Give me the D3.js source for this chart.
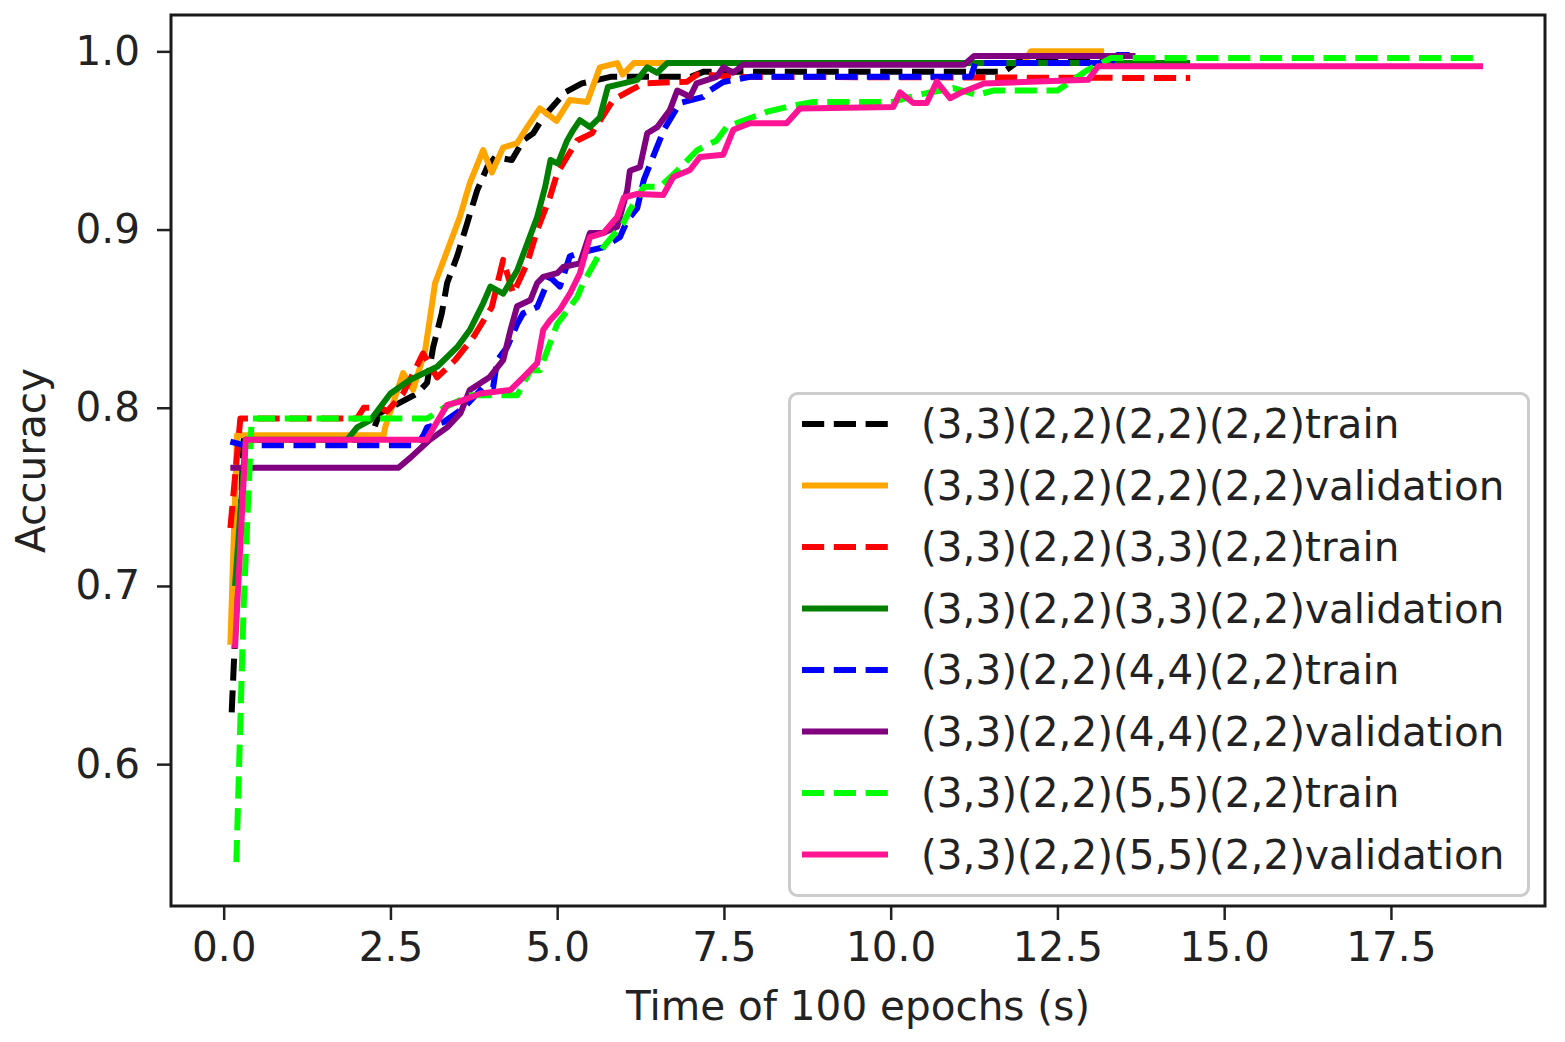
<!DOCTYPE html>
<html>
<head>
<meta charset="utf-8">
<script src="https://cdn.jsdelivr.net/npm/d3@7"></script>
<style>
  body { margin: 0; background: #fff; }
  text { font-family: "DejaVu Sans", sans-serif; fill: #222; }
</style>
</head>
<body>
<svg id="chart"></svg>
<script>
// [time (s), accuracy]
const k22Train = [[0.12,0.629],[0.3,0.782],[2.19,0.782],[2.34,0.797],[2.6,0.802],[2.9,0.808],[3.05,0.814],[3.14,0.834],[3.27,0.853],[3.35,0.870],[3.5,0.885],[3.65,0.9035],[3.8,0.922],[3.95,0.935],[4.07,0.9407],[4.32,0.939],[4.49,0.950],[4.64,0.954],[4.79,0.963],[5.12,0.977],[5.37,0.982],[5.8,0.9857],[7.0,0.9857],[7.2,0.9886],[11.7,0.9886],[11.9,0.994],[13.2,0.994]];
const k22Val = [[0.1,0.667],[0.2,0.7845],[2.4,0.7845],[2.42,0.789],[2.69,0.8195],[2.84,0.810],[3.02,0.832],[3.17,0.870],[3.35,0.888],[3.54,0.907],[3.69,0.926],[3.89,0.9446],[4.02,0.932],[4.19,0.946],[4.4,0.9485],[4.55,0.9575],[4.74,0.968],[4.99,0.961],[5.19,0.9727],[5.45,0.9716],[5.64,0.991],[5.9,0.9934],[5.98,0.987],[6.15,0.9934],[12.0,0.9934],[12.1,1.0],[13.2,1.0]];
const k33Train = [[0.1,0.7325],[0.25,0.794],[2.0,0.794],[2.1,0.800],[2.35,0.800],[2.45,0.798],[2.69,0.808],[2.99,0.8305],[3.2,0.817],[3.47,0.8267],[3.75,0.840],[4.02,0.8565],[4.19,0.883],[4.34,0.864],[4.55,0.881],[4.7,0.8997],[4.89,0.918],[5.0,0.9316],[5.3,0.950],[5.52,0.954],[5.84,0.9727],[6.09,0.978],[6.3,0.982],[6.95,0.983],[7.1,0.987],[7.8,0.9857],[14.49,0.985]];
const k33Val = [[0.17,0.70],[0.33,0.782],[1.85,0.782],[2.0,0.789],[2.2,0.793],[2.5,0.808],[2.79,0.8156],[3.2,0.823],[3.5,0.834],[3.69,0.8436],[3.89,0.8586],[4.0,0.868],[4.19,0.864],[4.4,0.877],[4.55,0.892],[4.7,0.907],[4.82,0.924],[4.9,0.939],[5.01,0.937],[5.15,0.950],[5.24,0.9558],[5.34,0.9614],[5.49,0.9575],[5.64,0.963],[5.76,0.980],[5.99,0.982],[6.2,0.984],[6.35,0.991],[6.5,0.988],[6.65,0.9934],[14.49,0.9934]];
const k44Train = [[0.1,0.781],[0.3,0.779],[2.9,0.779],[3.0,0.785],[3.05,0.789],[3.3,0.792],[3.6,0.800],[3.89,0.8115],[4.04,0.8115],[4.1,0.8266],[4.25,0.834],[4.4,0.847],[4.49,0.853],[4.7,0.8565],[4.89,0.8734],[5.04,0.868],[5.19,0.885],[5.34,0.887],[5.69,0.890],[5.94,0.8957],[6.05,0.905],[6.2,0.912],[6.3,0.928],[6.6,0.956],[6.84,0.971],[7.19,0.9745],[7.29,0.978],[7.49,0.9828],[7.89,0.9857],[11.2,0.9857],[11.27,0.9934],[13.3,0.9934],[13.4,0.998],[13.67,0.998]];
const k44Val = [[0.1,0.7663],[2.62,0.7663],[2.8,0.772],[3.09,0.782],[3.35,0.789],[3.55,0.797],[3.69,0.810],[3.99,0.8173],[4.19,0.8267],[4.3,0.8436],[4.4,0.857],[4.6,0.8605],[4.7,0.870],[4.79,0.8734],[5.0,0.8755],[5.09,0.879],[5.34,0.881],[5.49,0.898],[5.69,0.898],[5.9,0.9016],[6.05,0.922],[6.09,0.933],[6.24,0.935],[6.35,0.954],[6.5,0.9575],[6.69,0.967],[6.8,0.978],[6.99,0.9745],[7.09,0.982],[7.39,0.9857],[7.49,0.991],[7.64,0.988],[7.79,0.9925],[11.1,0.9925],[11.25,0.9974],[13.67,0.9974]];
const k55Train = [[0.19,0.545],[0.3,0.69],[0.42,0.794],[3.05,0.794],[3.3,0.800],[3.7,0.807],[4.4,0.807],[4.6,0.821],[4.74,0.821],[4.89,0.836],[5.0,0.847],[5.3,0.862],[5.39,0.870],[5.69,0.890],[5.99,0.9035],[6.09,0.911],[6.3,0.924],[6.54,0.924],[6.8,0.933],[7.1,0.9446],[7.39,0.950],[7.54,0.9575],[8.14,0.966],[8.44,0.9688],[8.84,0.9716],[10.04,0.9716],[10.39,0.9755],[10.94,0.9794],[11.29,0.9755],[11.54,0.978],[12.5,0.978],[12.95,0.9895],[13.3,0.9962],[18.86,0.9962]];
const k55Val = [[0.17,0.665],[0.33,0.782],[3.04,0.782],[3.35,0.8016],[3.5,0.803],[3.85,0.808],[4.3,0.810],[4.49,0.817],[4.7,0.825],[4.79,0.8436],[4.89,0.849],[5.04,0.855],[5.19,0.864],[5.34,0.8755],[5.49,0.8957],[5.69,0.898],[5.9,0.907],[6.0,0.918],[6.2,0.920],[6.59,0.9194],[6.74,0.9295],[6.99,0.9334],[7.14,0.9407],[7.49,0.942],[7.64,0.956],[7.89,0.9597],[8.44,0.9597],[8.64,0.968],[10.04,0.9688],[10.14,0.977],[10.34,0.971],[10.54,0.971],[10.69,0.983],[10.89,0.9737],[11.04,0.9766],[11.4,0.982],[12.96,0.984],[13.11,0.9917],[18.88,0.9917]];

const seriesData = [k22Train, k22Val, k33Train, k33Val, k44Train, k44Val, k55Train, k55Val];
const labels = [
  "(3,3)(2,2)(2,2)(2,2)train", "(3,3)(2,2)(2,2)(2,2)validation",
  "(3,3)(2,2)(3,3)(2,2)train", "(3,3)(2,2)(3,3)(2,2)validation",
  "(3,3)(2,2)(4,4)(2,2)train", "(3,3)(2,2)(4,4)(2,2)validation",
  "(3,3)(2,2)(5,5)(2,2)train", "(3,3)(2,2)(5,5)(2,2)validation"
];
const colors = ["#000000", "#ffa500", "#ff0000", "#008000", "#0000ff", "#800080", "#00ff00", "#ff1493"];
const dashed = [true, false, true, false, true, false, true, false];
const xTicks = [0, 2.5, 5, 7.5, 10, 12.5, 15, 17.5];
const yTicks = [0.6, 0.7, 0.8, 0.9, 1.0];

const W = 1565, H = 1042;
const plot = { left: 171, top: 15, right: 1545, bottom: 906 };
const fontSize = 40.5, lw = 6;
const dash = `${3.7 * lw},${1.6 * lw}`;

const svg = d3.select('#chart').attr('width', W).attr('height', H);

const x = d3.scaleLinear().domain([-0.79, 19.81]).range([plot.left, plot.right]);
const y = d3.scaleLinear().domain([0.5204, 1.0204]).range([plot.bottom, plot.top]);

svg.append('clipPath').attr('id', 'clip')
  .append('rect')
  .attr('x', plot.left).attr('y', plot.top)
  .attr('width', plot.right - plot.left).attr('height', plot.bottom - plot.top);

const line = d3.line().x(d => x(d[0])).y(d => y(d[1]));

svg.append('g').attr('clip-path', 'url(#clip)')
  .selectAll('path')
  .data(seriesData)
  .enter()
  .append('path')
  .attr('d', line)
  .attr('fill', 'none')
  .attr('stroke', (d, i) => colors[i])
  .attr('stroke-width', lw)
  .attr('stroke-linejoin', 'round')
  .attr('stroke-dasharray', (d, i) => dashed[i] ? dash : null);

// axes
const xAxis = svg.append('g')
  .attr('transform', `translate(0, ${plot.bottom})`)
  .call(d3.axisBottom(x).tickValues(xTicks).tickFormat(d3.format('.1f')).tickSize(14).tickPadding(12));

const yAxis = svg.append('g')
  .attr('transform', `translate(${plot.left}, 0)`)
  .call(d3.axisLeft(y).tickValues(yTicks).tickFormat(d3.format('.1f')).tickSize(14).tickPadding(17));

[xAxis, yAxis].forEach(a => {
  a.select('.domain').remove();
  a.selectAll('.tick line').attr('stroke', '#222').attr('stroke-width', 2.5);
  a.selectAll('.tick text').attr('font-size', fontSize).attr('fill', '#222')
    .attr('font-family', '"DejaVu Sans", sans-serif');
});

svg.append('rect')
  .attr('x', plot.left).attr('y', plot.top)
  .attr('width', plot.right - plot.left).attr('height', plot.bottom - plot.top)
  .attr('fill', 'none').attr('stroke', '#1a1a1a').attr('stroke-width', 3);

svg.append('text')
  .attr('x', (plot.left + plot.right) / 2)
  .attr('y', 1020)
  .attr('text-anchor', 'middle')
  .attr('font-size', fontSize)
  .text('Time of 100 epochs (s)');

svg.append('text')
  .attr('transform', `translate(45, ${(plot.top + plot.bottom) / 2}) rotate(-90)`)
  .attr('text-anchor', 'middle')
  .attr('font-size', fontSize)
  .text('Accuracy');

// legend
const legend = svg.append('g');
legend.append('rect')
  .attr('x', 789.5).attr('y', 393.5)
  .attr('width', 739).attr('height', 502)
  .attr('rx', 8).attr('ry', 8)
  .attr('fill', '#fff').attr('fill-opacity', 0.8)
  .attr('stroke', '#cccccc').attr('stroke-width', 3);

const rows = legend.selectAll('.row')
  .data(labels)
  .enter()
  .append('g')
  .attr('class', 'row')
  .attr('transform', (d, i) => `translate(0, ${424 + i * 61.5})`);

rows.append('line')
  .attr('x1', 802).attr('x2', 888)
  .attr('stroke', (d, i) => colors[i])
  .attr('stroke-width', lw)
  .attr('stroke-dasharray', (d, i) => dashed[i] ? dash : null);

rows.append('text')
  .attr('x', 921)
  .attr('dy', '0.35em')
  .attr('font-size', fontSize)
  .text(d => d);
</script>
</body>
</html>
